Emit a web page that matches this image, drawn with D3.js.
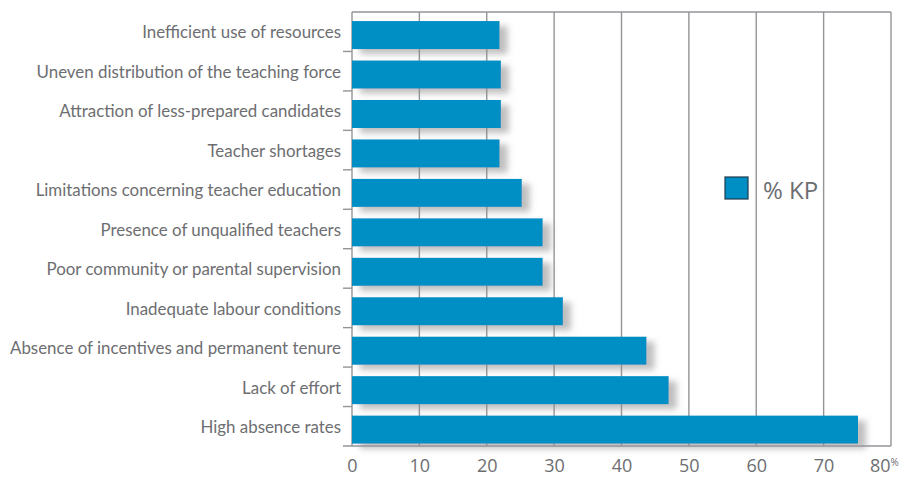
<!DOCTYPE html>
<html>
<head>
<meta charset="utf-8">
<script src="https://cdn.jsdelivr.net/npm/d3@7"></script>
<style>
  body { margin: 0; background: #fff; }
  svg text { font-family: "Open Sans", "Noto Sans", sans-serif; fill: #6d6e71; }
</style>
</head>
<body>
<svg id="chart" width="909" height="478"></svg>
<script>
// Data
const categories = [
  "Inefficient use of resources",
  "Uneven distribution of the teaching force",
  "Attraction of less-prepared candidates",
  "Teacher shortages",
  "Limitations concerning teacher education",
  "Presence of unqualified teachers",
  "Poor community or parental supervision",
  "Inadequate labour conditions",
  "Absence of incentives and permanent tenure",
  "Lack of effort",
  "High absence rates"
];
const values = [21.9, 22.1, 22.1, 21.9, 25.2, 28.3, 28.3, 31.3, 43.7, 47.0, 75.1];
const xTicks = [0, 10, 20, 30, 40, 50, 60, 70, 80];
const seriesName = "% KP";

const dataset = categories.map((c, i) => ({ cat: c, value: values[i] }));

const svg = d3.select("#chart");
const blue = "#008fc5";
const gridColor = "#939598";

// Shadow filter for the bars
const defs = svg.append("defs");
const filter = defs.append("filter")
  .attr("id", "shadow")
  .attr("x", "-10%").attr("y", "-30%")
  .attr("width", "130%").attr("height", "180%");
filter.append("feDropShadow")
  .attr("dx", 8).attr("dy", 5)
  .attr("stdDeviation", 3)
  .attr("flood-color", "#8a8a8a")
  .attr("flood-opacity", 0.55);

// Scales
const xScale = d3.scaleLinear().domain([0, 80]).range([352, 891]);
const yScale = d3.scaleBand().domain(categories).range([12, 446]);

// Gridlines + frame
svg.append("g")
  .selectAll("line")
  .data(xTicks)
  .enter()
  .append("line")
  .attr("x1", d => xScale(d)).attr("x2", d => xScale(d))
  .attr("y1", 12).attr("y2", 446)
  .attr("stroke", gridColor)
  .attr("stroke-width", 1.4);

svg.append("line")
  .attr("x1", xScale(0)).attr("x2", xScale(80))
  .attr("y1", 12).attr("y2", 12)
  .attr("stroke", gridColor).attr("stroke-width", 1.4);

// Legend
const legend = svg.append("g").attr("transform", "translate(725,177)");
legend.append("rect")
  .attr("width", 23).attr("height", 22)
  .attr("fill", blue)
  .attr("stroke", "#1d3b4d").attr("stroke-width", 1.2);
legend.append("text")
  .attr("x", 38).attr("y", 22)
  .style("font-size", "24px")
  .text(seriesName);

// Bars
svg.append("g")
  .selectAll("rect")
  .data(dataset)
  .enter()
  .append("rect")
  .attr("x", xScale(0))
  .attr("y", d => yScale(d.cat) + yScale.bandwidth() * 0.23)
  .attr("height", yScale.bandwidth() * 0.71)
  .attr("width", d => xScale(d.value) - xScale(0))
  .attr("fill", blue)
  .attr("filter", "url(#shadow)");

// Y axis (ticks between categories, pointing left)
const yAxis = d3.axisLeft(yScale).tickSize(0).tickPadding(11);
const yg = svg.append("g")
  .attr("transform", `translate(${xScale(0)},0)`)
  .call(yAxis);
yg.select(".domain").remove();
yg.selectAll("text")
  .attr("dy", "0.4em")
  .style("font-family", "Lato, 'Open Sans', sans-serif")
  .style("font-size", "16.9px")
  .style("fill", "#6d6e71");

svg.append("g")
  .selectAll("line")
  .data(categories.slice(1))
  .enter()
  .append("line")
  .attr("x1", xScale(0) - 9).attr("x2", xScale(0))
  .attr("y1", d => yScale(d)).attr("y2", d => yScale(d))
  .attr("stroke", gridColor).attr("stroke-width", 1.4);

// X axis
const xAxis = d3.axisBottom(xScale).tickValues(xTicks).tickSize(0).tickPadding(13).tickFormat(d => d);
const xg = svg.append("g")
  .attr("transform", "translate(0,446)")
  .call(xAxis);
xg.select(".domain").remove();
svg.append("line")
  .attr("x1", xScale(0) - 9).attr("x2", xScale(80))
  .attr("y1", 446).attr("y2", 446)
  .attr("stroke", gridColor).attr("stroke-width", 1.4);
xg.selectAll("text")
  .style("font-size", "18px")
  .style("fill", "#6d6e71");

// small % after the last tick label
xg.selectAll("text")
  .filter(d => d === 80)
  .attr("dx", "-0.4em")
  .append("tspan")
  .attr("dy", "-0.6em")
  .style("font-size", "10px")
  .text("%");
</script>
</body>
</html>
